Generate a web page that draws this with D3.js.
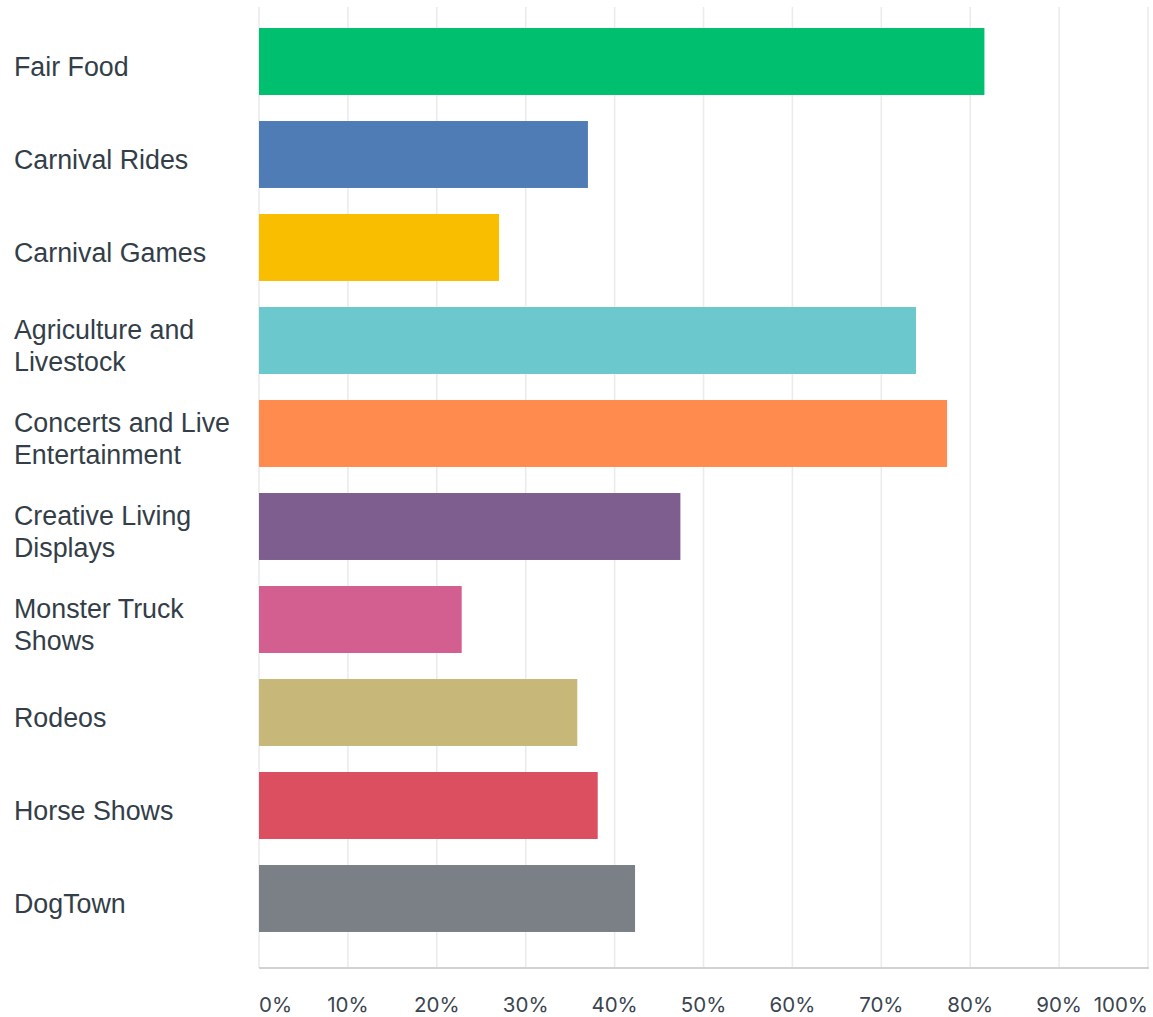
<!DOCTYPE html>
<html>
<head>
<meta charset="utf-8">
<script src="https://cdn.jsdelivr.net/npm/d3@7"></script>
<style>
  html, body { margin: 0; padding: 0; background: #ffffff; }
  svg { display: block; }
</style>
</head>
<body>
<svg id="chart" width="1153" height="1017"></svg>
<script>
// Share of respondents who enjoy each fair attraction (percent)
const categories = [
  ["Fair Food"],
  ["Carnival Rides"],
  ["Carnival Games"],
  ["Agriculture and", "Livestock"],
  ["Concerts and Live", "Entertainment"],
  ["Creative Living", "Displays"],
  ["Monster Truck", "Shows"],
  ["Rodeos"],
  ["Horse Shows"],
  ["DogTown"]
];
const values = [81.6, 37.0, 27.0, 73.9, 77.4, 47.4, 22.8, 35.8, 38.1, 42.3];
const barColors = ["#00bf6f", "#507cb6", "#f9be00", "#6bc8cd", "#ff8b4f",
                   "#7d5e8e", "#d25f90", "#c7b879", "#dc4f60", "#7a8086"];
const tickValues = [0, 10, 20, 30, 40, 50, 60, 70, 80, 90, 100];
const tickLabels = ["0%", "10%", "20%", "30%", "40%", "50%", "60%", "70%", "80%", "90%", "100%"];

(function () {
  const svg = d3.select("#chart");
  const plotLeft = 259, plotRight = 1148, plotTop = 7, axisY = 968;

  const x = d3.scaleLinear().domain([0, 100]).range([plotLeft, plotRight]);
  const y = d3.scaleBand()
    .domain(d3.range(categories.length))
    .range([15, 945])
    .paddingInner(0.28)
    .paddingOuter(0.14);

  // vertical gridlines
  svg.append("g")
    .selectAll("line")
    .data(tickValues)
    .join("line")
    .attr("x1", d => x(d)).attr("x2", d => x(d))
    .attr("y1", plotTop).attr("y2", axisY)
    .attr("stroke", "#ebebeb")
    .attr("stroke-width", 1.6);

  // bars
  svg.append("g")
    .selectAll("rect")
    .data(values)
    .join("rect")
    .attr("x", x(0))
    .attr("y", (d, i) => y(i))
    .attr("width", d => x(d) - x(0))
    .attr("height", y.bandwidth())
    .attr("fill", (d, i) => barColors[i]);

  // baseline
  svg.append("line")
    .attr("x1", x(0)).attr("x2", x(100) + 1)
    .attr("y1", axisY).attr("y2", axisY)
    .attr("stroke", "#d2d2d2")
    .attr("stroke-width", 2);

  // tick labels: first and last kept inside the plot edges
  svg.append("g")
    .selectAll("text")
    .data(tickValues)
    .join("text")
    .attr("x", d => x(d))
    .attr("y", 1012)
    .attr("text-anchor", (d, i) => i === 0 ? "start" : (i === tickValues.length - 1 ? "end" : "middle"))
    .attr("font-family", "Inter, 'Noto Sans', sans-serif")
    .attr("font-size", 20.5)
    .attr("fill", "#3b4550")
    .text((d, i) => tickLabels[i]);

  // category labels (wrapped)
  const lineH = 31.6;
  svg.append("g")
    .selectAll("text")
    .data(categories)
    .join("text")
    .attr("font-family", "'Liberation Sans', Arial, sans-serif")
    .attr("font-size", 26.8)
    .attr("fill", "#333e48")
    .each(function (lines, i) {
      const cy = y(i) + y.bandwidth() / 2 + 14.5;
      d3.select(this).selectAll("tspan")
        .data(lines)
        .join("tspan")
        .attr("x", 14)
        .attr("y", (l, j) => cy + (j - (lines.length - 1) / 2) * lineH)
        .text(l => l);
    });
})();
</script>
</body>
</html>
